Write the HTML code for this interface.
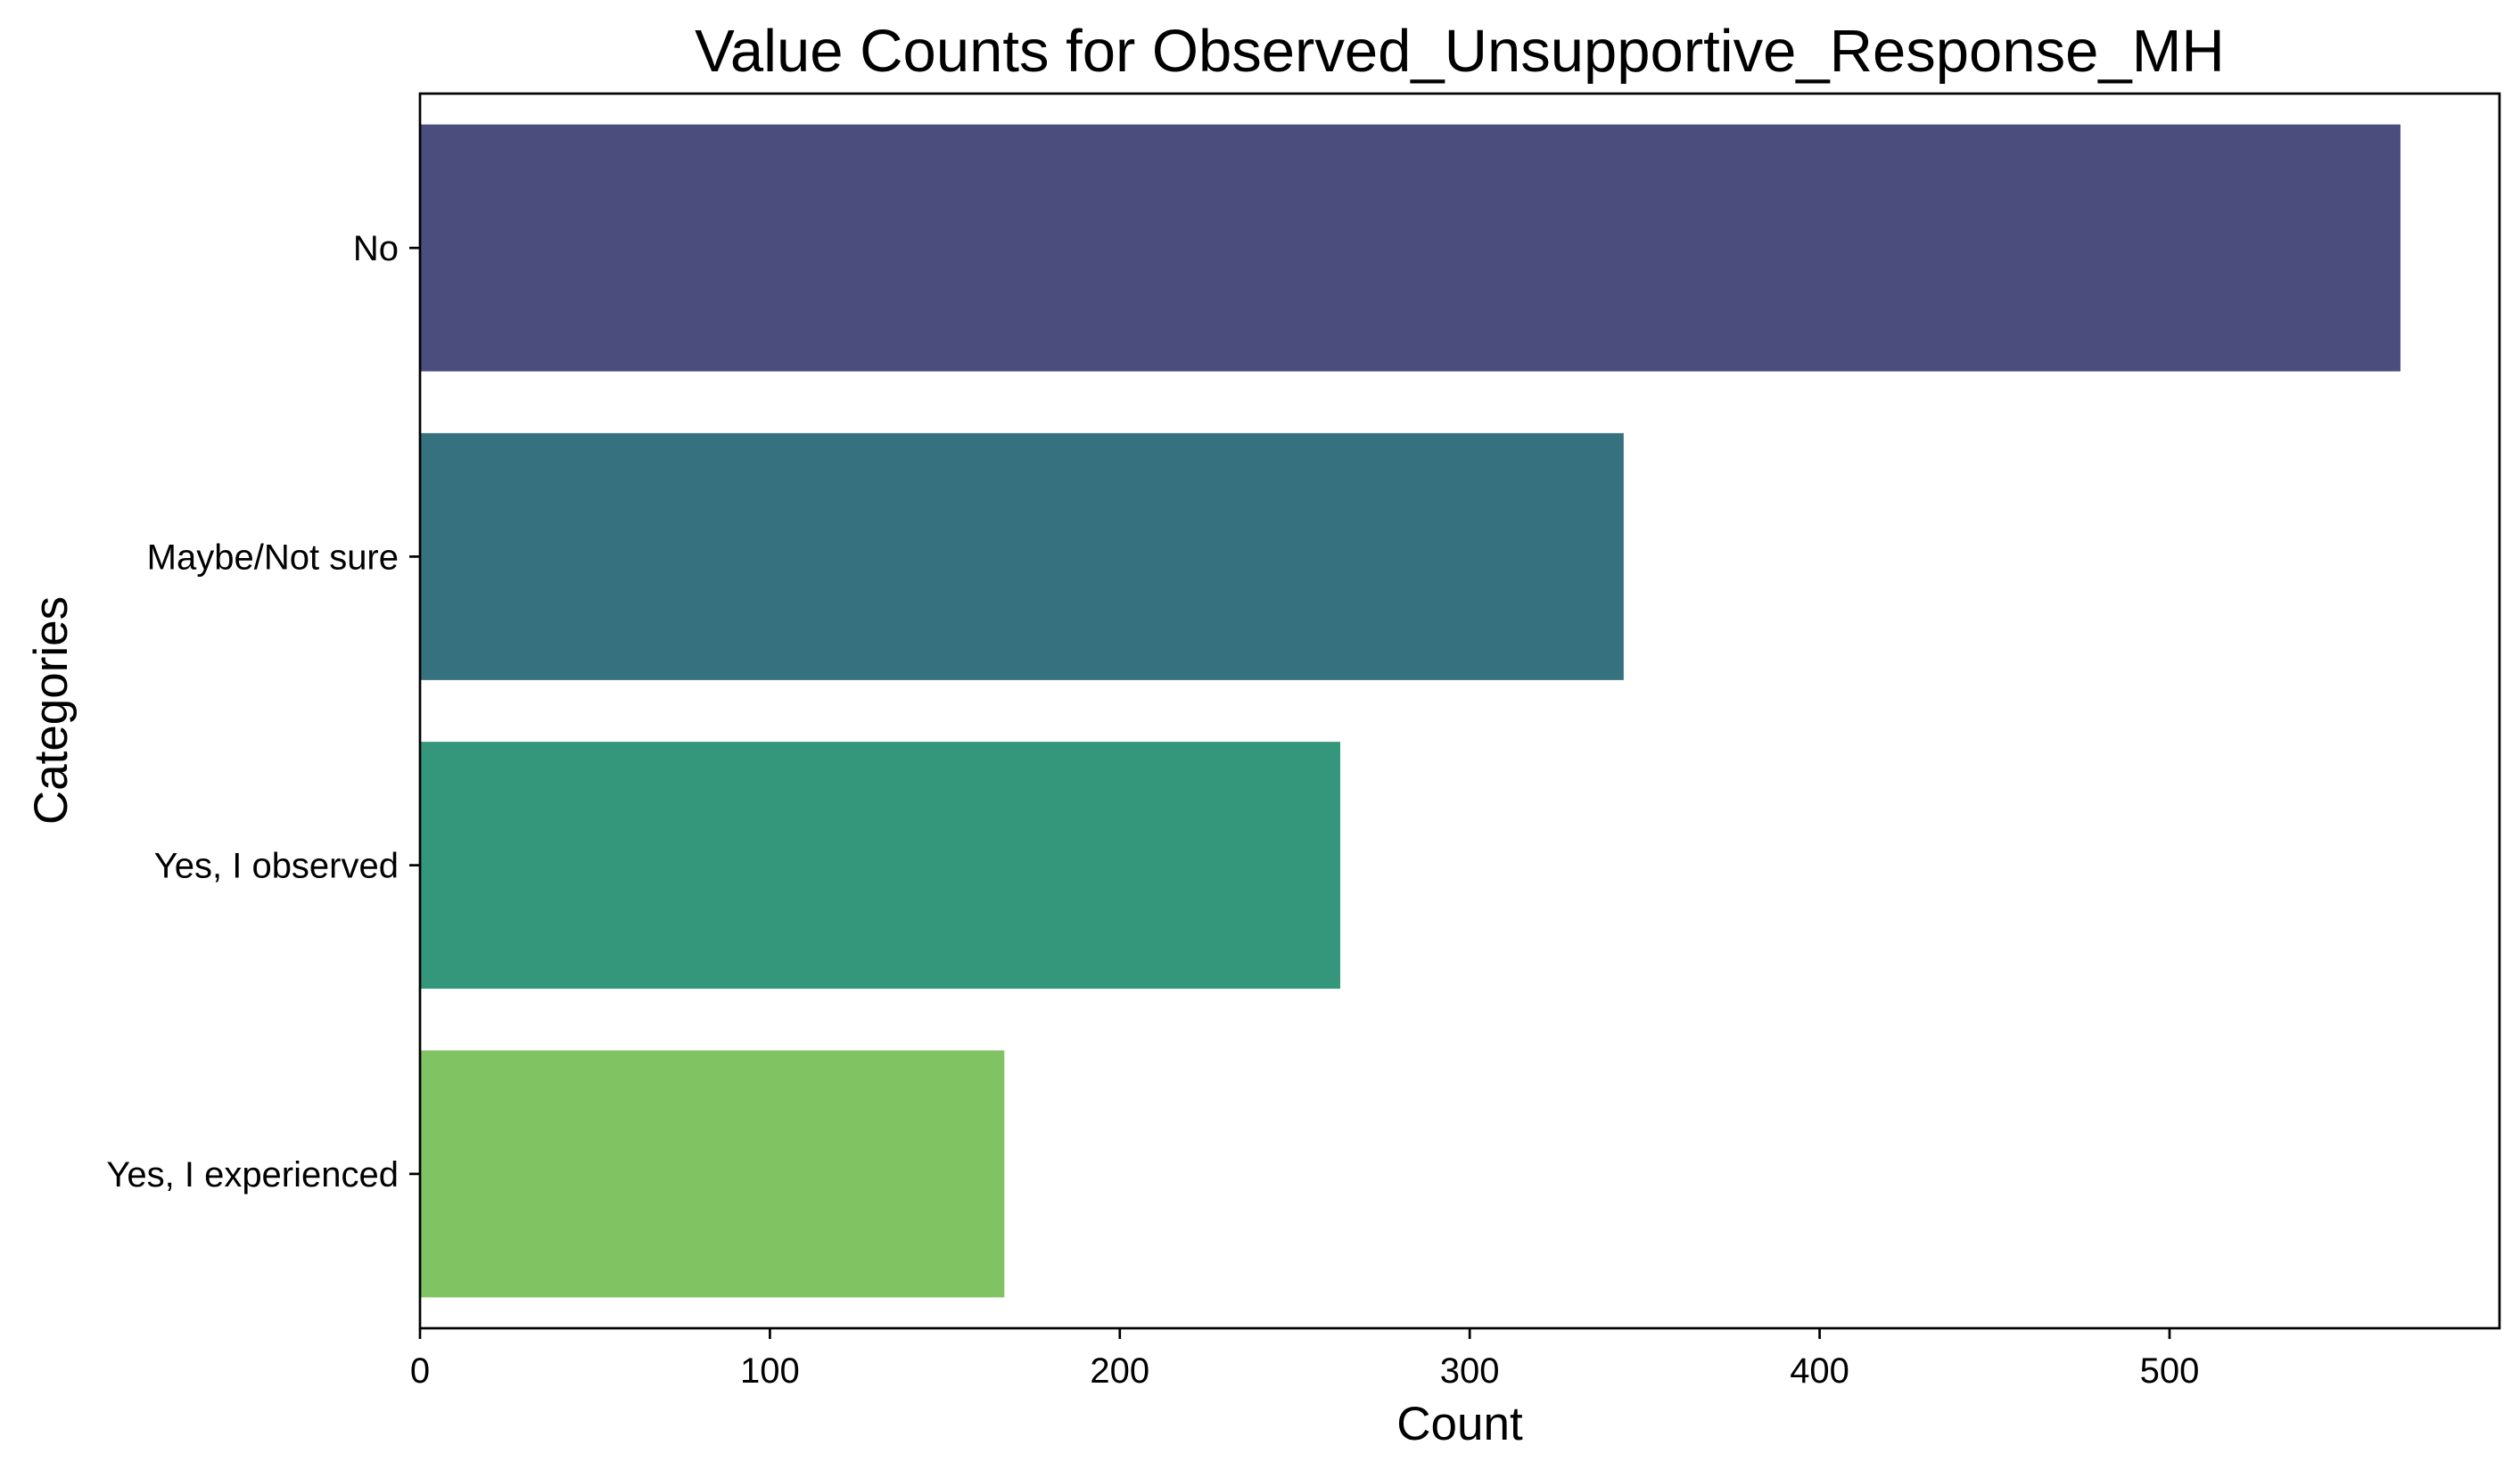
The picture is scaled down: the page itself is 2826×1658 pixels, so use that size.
<!DOCTYPE html>
<html><head><meta charset="utf-8"><style>
html,body{margin:0;padding:0;background:#fff;}
svg{display:block;font-family:"Liberation Sans",Arial,sans-serif;}
</style></head><body>
<svg id="chart" width="2826" height="1658" viewBox="0 0 2826 1658" xmlns="http://www.w3.org/2000/svg">
<rect x="0" y="0" width="2826" height="1658" fill="#fff"/>
<text x="1637" y="80" font-size="67" text-anchor="middle" fill="#000">Value Counts for Observed_Unsupportive_Response_MH</text>
<g id="bars"></g>
<g id="yticks"></g>
<g id="xticks"></g>
<rect x="471" y="105" width="2332" height="1385" fill="none" stroke="#000" stroke-width="2.7"/>
<text x="1637" y="1615" font-size="53" text-anchor="middle" fill="#000">Count</text>
<text transform="translate(75,797) rotate(-90)" x="0" y="0" font-size="53" text-anchor="middle" fill="#000">Categories</text>
</svg>
<script>
const categories = ["No", "Maybe/Not sure", "Yes, I observed", "Yes, I experienced"];
const counts = [566, 344, 263, 167];
const xTicks = [0, 100, 200, 300, 400, 500];
const colors = ["#4b4d7d", "#36717f", "#34977b", "#80c362"];

const NS = "http://www.w3.org/2000/svg";
const L = 471, R = 2803, T = 105, B = 1490;
const xMax = Math.max(...counts) * 1.05;
const xs = v => L + (v / xMax) * (R - L);
const band = (B - T) / categories.length;
const yc = i => T + band * (i + 0.5);
const barH = band * 0.8;

const gb = document.getElementById('bars');
categories.forEach((c, i) => {
  const r = document.createElementNS(NS, 'rect');
  r.setAttribute('x', xs(0));
  r.setAttribute('y', yc(i) - barH / 2);
  r.setAttribute('width', xs(counts[i]) - xs(0));
  r.setAttribute('height', barH);
  r.setAttribute('fill', colors[i % colors.length]);
  
  
  gb.appendChild(r);
});

const gy = document.getElementById('yticks');
categories.forEach((c, i) => {
  const ln = document.createElementNS(NS, 'line');
  ln.setAttribute('x1', L - 12); ln.setAttribute('x2', L);
  ln.setAttribute('y1', yc(i)); ln.setAttribute('y2', yc(i));
  ln.setAttribute('stroke', '#000'); ln.setAttribute('stroke-width', '2.7');
  
  
  gy.appendChild(ln);
  const t = document.createElementNS(NS, 'text');
  t.setAttribute('x', L - 24); t.setAttribute('y', yc(i) + 14);
  t.setAttribute('font-size', '40'); t.setAttribute('text-anchor', 'end');
  t.textContent = c;
  
  
  gy.appendChild(t);
});

const gx = document.getElementById('xticks');
xTicks.forEach(v => {
  const ln = document.createElementNS(NS, 'line');
  ln.setAttribute('x1', xs(v)); ln.setAttribute('x2', xs(v));
  ln.setAttribute('y1', B); ln.setAttribute('y2', B + 12);
  ln.setAttribute('stroke', '#000'); ln.setAttribute('stroke-width', '2.7');
  
  
  gx.appendChild(ln);
  const t = document.createElementNS(NS, 'text');
  t.setAttribute('x', xs(v)); t.setAttribute('y', 1551);
  t.setAttribute('font-size', '40'); t.setAttribute('text-anchor', 'middle');
  t.textContent = v;
  
  
  gx.appendChild(t);
});
</script>
</body></html>
